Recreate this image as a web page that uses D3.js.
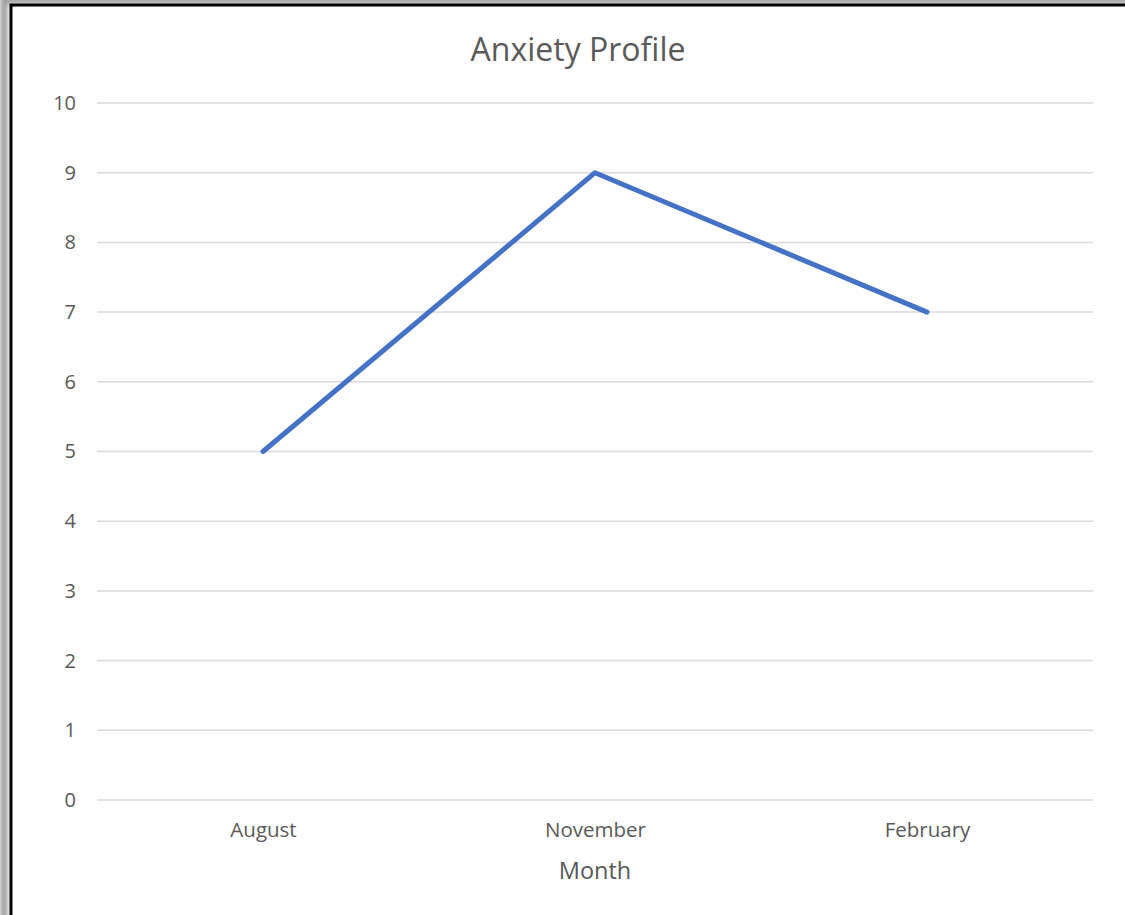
<!DOCTYPE html>
<html><head><meta charset="utf-8">
<script src="https://cdn.jsdelivr.net/npm/d3@7"></script>
<style>html,body{margin:0;padding:0;background:#fff;overflow:hidden}</style>
</head><body>
<script>
const months = ["August", "November", "February"];
const anxiety = [5, 9, 7];
const yTicks = [0,1,2,3,4,5,6,7,8,9,10];
const chartTitle = "Anxiety Profile";
const xTitle = "Month";

const W = 1125, H = 915;
const svg = d3.select("body").append("svg").attr("width", W).attr("height", H);
const defs = svg.append("defs");
const f = defs.append("filter").attr("id","blur").attr("x","-10%").attr("y","-10%").attr("width","120%").attr("height","120%");
f.append("feGaussianBlur").attr("stdDeviation", 2.5);

// shadow + frame
svg.append("rect").attr("x", 4).attr("y", 0).attr("width", W + 20).attr("height", H + 20)
  .attr("fill", "none").attr("stroke", "#9a9a9a").attr("stroke-width", 7).attr("filter","url(#blur)");
svg.append("rect").attr("x", 11).attr("y", 5).attr("width", W + 20).attr("height", H + 20)
  .attr("fill", "#fff").attr("stroke", "#000").attr("stroke-width", 3);

const x = d3.scalePoint().domain(months).range([263, 927]);
const y = d3.scaleLinear().domain([0, 10]).range([800, 103]);
const font = "'Open Sans', 'Noto Sans', sans-serif";

// gridlines
svg.append("g").selectAll("line").data(yTicks).join("line")
  .attr("x1", 97).attr("x2", 1093)
  .attr("y1", d => y(d)).attr("y2", d => y(d))
  .attr("stroke", "#d9d9d9").attr("stroke-width", 1.5);

// y axis labels
const ya = svg.append("g").attr("transform", "translate(76,0)")
  .call(d3.axisLeft(y).tickValues(yTicks).tickSize(0).tickPadding(0));
ya.select(".domain").remove();
ya.selectAll("text").attr("font-family", font).attr("font-size", 20).attr("fill", "#595959").attr("text-anchor","end");

// x axis labels
const xa = svg.append("g").attr("transform", "translate(0,822)")
  .call(d3.axisBottom(x).tickSize(0).tickPadding(0));
xa.select(".domain").remove();
xa.selectAll("text").attr("font-family", font).attr("font-size", 20.5).attr("fill", "#595959");

// line
svg.append("path").datum(anxiety)
  .attr("d", d3.line().x((d, i) => x(months[i])).y(d => y(d)))
  .attr("fill", "none").attr("stroke", "#4472C4").attr("stroke-width", 5).attr("stroke-linecap","round").attr("stroke-linejoin","round");

// titles
svg.append("text").attr("x", 578).attr("y", 61).attr("text-anchor", "middle")
  .attr("font-family", font).attr("font-size", 32).attr("fill", "#595959").text(chartTitle);
svg.append("text").attr("x", 595).attr("y", 879).attr("text-anchor", "middle")
  .attr("font-family", font).attr("font-size", 23.5).attr("fill", "#595959").text(xTitle);
</script>
</body></html>
